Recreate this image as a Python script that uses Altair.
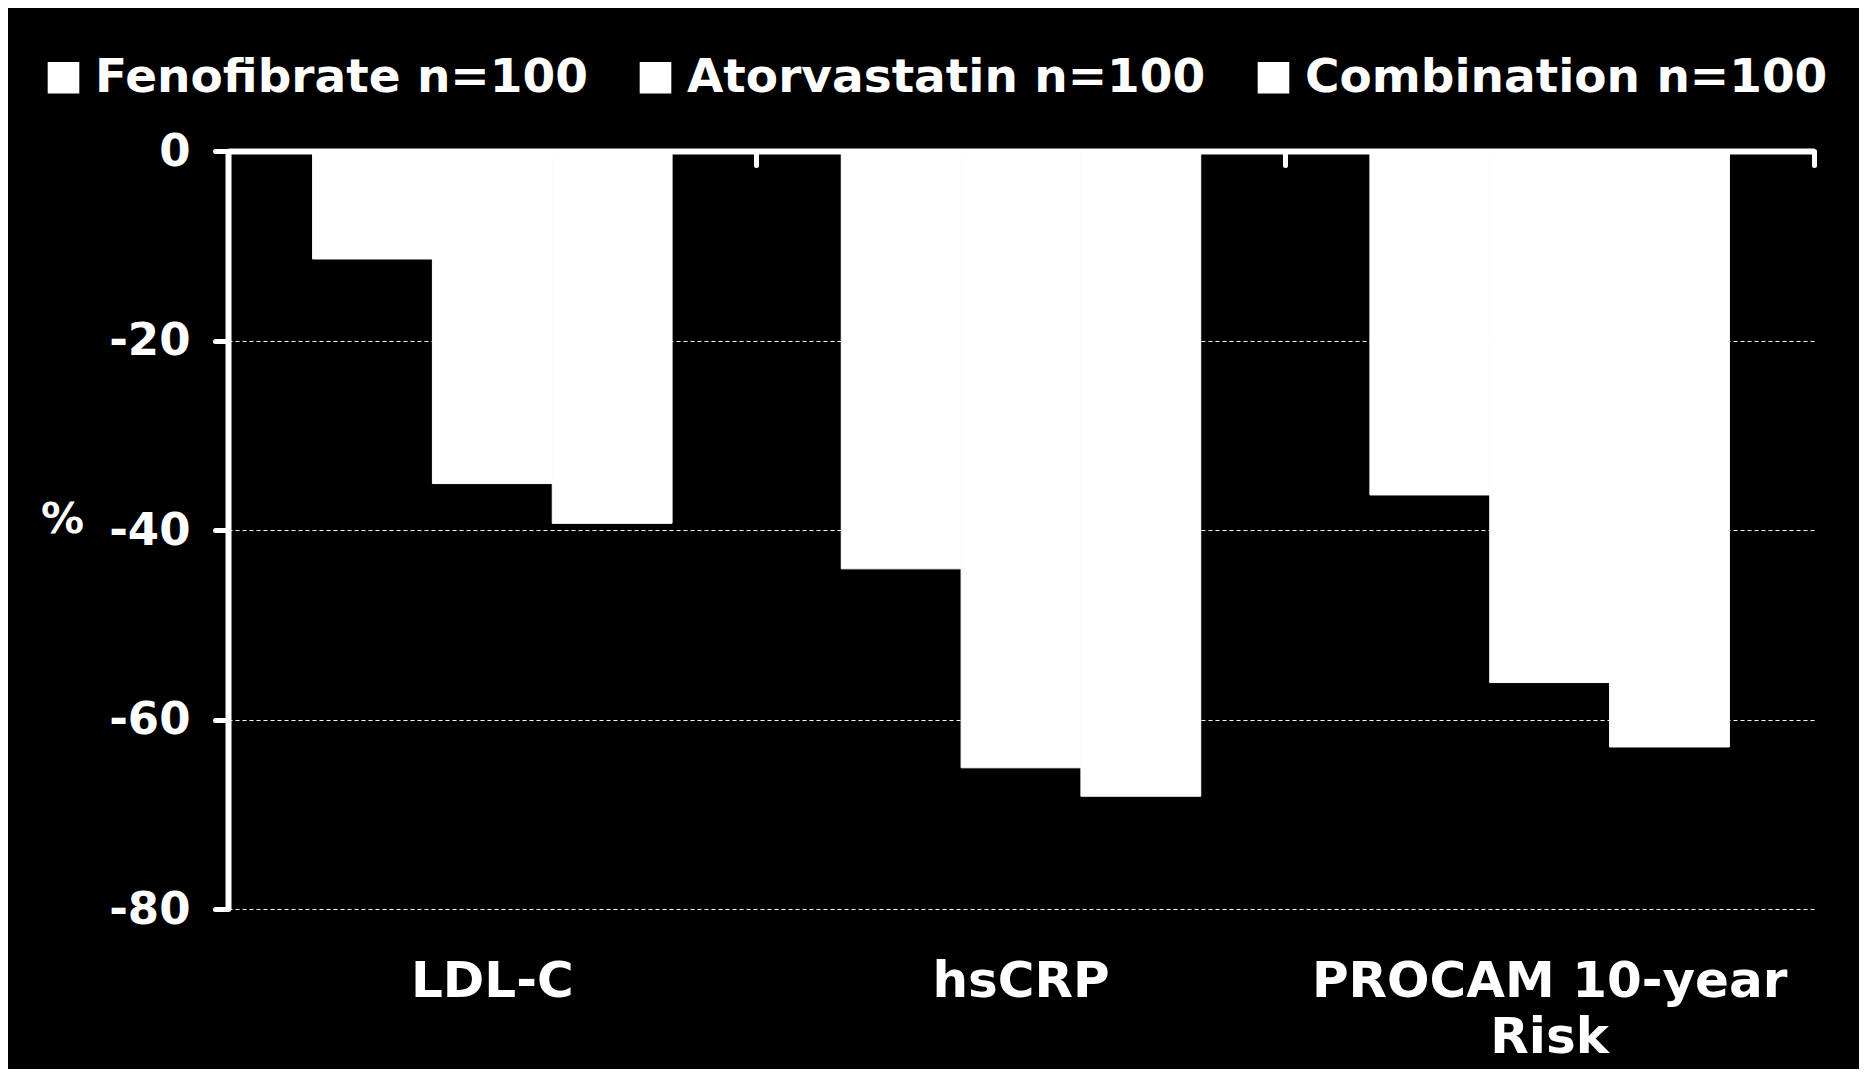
import altair as alt
import pandas as pd

categories = ["LDL-C", "hsCRP", "PROCAM 10-year\nRisk"]
series = ["Fenofibrate n=100", "Atorvastatin n=100", "Combination n=100"]
fenofibrate = [-11.4, -44.1, -36.3]
atorvastatin = [-35.1, -65.1, -56.1]
combination = [-39.3, -68.1, -62.9]
y_ticks = [0, -20, -40, -60, -80]

rows = []
for s, vals in zip(series, [fenofibrate, atorvastatin, combination]):
    for c, v in zip(categories, vals):
        rows.append({"category": c, "series": s, "value": v})
df = pd.DataFrame(rows)

FONT = "DejaVu Sans"
W, H = 1586, 758
P_INNER, P_OUTER = 0.32, 0.16

yaxis = alt.Axis(
    values=y_ticks, labelExpr="'' + datum.value",
    labelFont=FONT, labelFontWeight="bold", labelFontSize=45, labelColor="white",
    labelPadding=25, labelBaseline="middle",
    tickSize=13, tickWidth=5, tickColor="white", tickCap="round",
    domainColor="white", domainWidth=6,
    grid=True, gridColor="white", gridDash=[4, 3], gridWidth=1,
    title="%", titleAngle=0, titleX=-166, titleY=368, titleAlign="center",
    titleBaseline="middle", titleFont=FONT, titleFontSize=43, titleColor="white",
    titleFontWeight="bold",
)

yenc = alt.Y("value:Q", stack=None,
             scale=alt.Scale(domain=[-80, 0], nice=False, zero=False), axis=yaxis)
xscale = alt.Scale(paddingInner=P_INNER, paddingOuter=P_OUTER)
xoff = alt.XOffset("series:N", sort=series, scale=alt.Scale(paddingInner=0, paddingOuter=0))

label_axis = alt.Axis(
    orient="bottom", domain=False, ticks=False, tickSize=0, grid=False,
    labelExpr="split(datum.label, '\\n')", labelFont=FONT, labelFontWeight="bold",
    labelFontSize=50, labelColor="white", labelPadding=47, labelBaseline="top",
    labelLineHeight=56, labelAngle=0, labelLimit=1000, title=None,
)
frame_axis = alt.Axis(
    orient="bottom", offset=-H, domain=True, domainColor="white", domainWidth=6,
    ticks=True, tickColor="white", tickWidth=5, tickSize=14, tickCap="round",
    bandPosition=1 + (P_INNER / 2) / (1 - P_INNER), labels=False, grid=False, title=None,
)

bars = alt.Chart(df).mark_bar(stroke="white", strokeWidth=1).encode(
    x=alt.X("category:N", sort=categories, scale=xscale, axis=label_axis),
    xOffset=xoff,
    y=yenc,
    color=alt.Color(
        "series:N", sort=series,
        scale=alt.Scale(domain=series, range=["white", "white", "white"]),
        legend=alt.Legend(
            title=None, orient="none", legendX=-188, legendY=-97, direction="horizontal",
            symbolType="square", symbolSize=1000, symbolStrokeWidth=0,
            labelFont=FONT, labelFontWeight="bold", labelFontSize=47, labelColor="white",
            labelOffset=8, columnPadding=44, labelLimit=1000, labelBaseline="middle",
            padding=0,
        ),
    ),
)

frame = alt.Chart(df).mark_bar(opacity=0).encode(
    x=alt.X("category:N", sort=categories, scale=xscale, axis=frame_axis),
    xOffset=xoff,
    y=yenc,
)

chart = alt.layer(bars, frame).resolve_axis(x="independent").properties(
    width=W, height=H,
    autosize=alt.AutoSizeParams(type="none"),
    padding={"left": 220, "top": 143, "right": 45, "bottom": 160},
    background="black",
).configure_view(strokeWidth=0)

chart.save("out.html", embed_options={"renderer": "svg", "actions": False})
